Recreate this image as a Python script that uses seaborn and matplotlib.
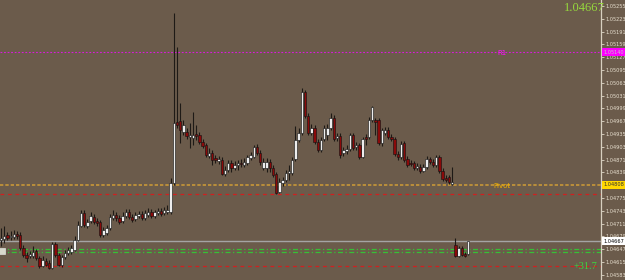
import matplotlib
matplotlib.use("Agg")
import matplotlib.pyplot as plt
import matplotlib.transforms as mtransforms
import numpy as np
import seaborn as sns

# ---- data (prices in points, 1e-5) ----
opens = [104670,104673,104683,104678,104678,104685,104683,104650,104633,104630,
         104630,104643,104625,104605,104618,104613,104600,104660,104633,104608,
         104628,104638,104640,104645,104670,104705,104738,104705,104718,104728,
         104718,104715,104683,104688,104700,104725,104733,104725,104718,104730,
         104740,104728,104723,104730,104735,104725,104733,104740,104730,104738,
         104743,104738,104740,104740,104813,104965,104968,104940,104940,104928,
         104925,104935,104933,104915,104908,104880,104888,104875,104868,104870,
         104835,104845,104863,104850,104858,104863,104858,104863,104875,104878,
         104903,104888,104850,104850,104865,104850,104835,104790,104813,104820,
         104838,104838,104873,104920,104938,105040,104980,104938,104950,104915,
         104895,104923,104933,104950,104975,104925,104930,104888,104893,104898,
         104933,104903,104908,104878,104928,104928,104970,104970,104970,104913,
         104938,104945,104928,104923,104885,104878,104913,104873,104863,104863,
         104850,104853,104843,104853,104873,104865,104858,104878,104843,104825,
         104828,104810,104658,104630,104650,104635,104635]
closes = [104675,104680,104675,104680,104685,104680,104650,104633,104625,104635,
          104640,104625,104605,104620,104608,104600,104660,104633,104608,104628,
          104638,104645,104650,104670,104708,104738,104708,104715,104730,104715,
          104713,104683,104695,104700,104728,104733,104725,104715,104730,104740,
          104728,104720,104733,104735,104725,104738,104740,104730,104740,104743,
          104735,104745,104745,104813,104963,104958,104945,104958,104930,104933,
          104933,104930,104915,104905,104883,104888,104870,104870,104873,104835,
          104845,104863,104850,104858,104863,104860,104865,104878,104883,104903,
          104888,104865,104865,104865,104850,104833,104788,104815,104820,104838,
          104843,104870,104920,104938,105040,104980,104938,104950,104915,104895,
          104920,104950,104950,104975,104923,104930,104883,104895,104898,104933,
          104900,104908,104878,104923,104923,104970,105003,104965,104913,104945,
          104945,104928,104923,104885,104878,104910,104870,104858,104860,104850,
          104855,104843,104853,104873,104865,104858,104878,104843,104823,104820,
          104815,104815,104630,104650,104633,104630,104667]
highs = [104700,104705,104690,104693,104695,104693,104690,104658,104640,104643,
         104655,104648,104630,104630,104625,104620,104665,104665,104638,104633,
         104645,104653,104658,104680,104718,104745,104745,104723,104740,104735,
         104725,104720,104703,104708,104735,104745,104740,104733,104740,104748,
         104748,104735,104740,104743,104743,104745,104750,104748,104745,104750,
         104750,104753,104758,104825,105238,105153,105013,104970,104950,104963,
         104990,104958,104940,104923,104913,104900,104895,104883,104880,104878,
         104855,104870,104870,104868,104870,104873,104875,104883,104890,104908,
         104910,104895,104875,104875,104873,104858,104840,104825,104828,104845,
         104858,104878,104955,104950,105050,105045,104988,104960,104958,104923,
         104928,104958,104960,104988,104983,104938,104938,104903,104908,104938,
         104938,104915,104913,104928,104935,104978,105005,104975,104975,104950,
         104953,104953,104935,104928,104893,104918,104918,104880,104870,104868,
         104863,104860,104860,104880,104878,104873,104883,104883,104850,104833,
         104833,104853,104675,104655,104655,104640,104668]
lows = [104655,104663,104670,104670,104673,104673,104645,104628,104615,104625,
        104625,104620,104600,104603,104605,104598,104598,104628,104605,104603,
        104623,104633,104635,104643,104668,104703,104703,104700,104713,104710,
        104705,104678,104678,104683,104695,104720,104718,104710,104713,104725,
        104723,104715,104718,104725,104720,104720,104728,104725,104725,104733,
        104730,104733,104735,104735,104808,104950,104913,104933,104923,104900,
        104908,104920,104910,104900,104878,104875,104858,104863,104860,104833,
        104830,104840,104840,104845,104845,104853,104853,104858,104870,104875,
        104883,104858,104845,104840,104840,104828,104785,104788,104805,104815,
        104820,104833,104868,104915,104933,104975,104933,104933,104910,104890,
        104890,104918,104920,104945,104918,104918,104875,104880,104885,104893,
        104895,104895,104873,104875,104908,104923,104965,104933,104908,104905,
        104933,104923,104918,104880,104870,104873,104865,104853,104855,104845,
        104845,104838,104840,104848,104860,104853,104853,104838,104818,104815,
        104810,104808,104628,104628,104630,104628,104633]

price_ticks = [105255,105223,105191,105159,105127,105095,105063,105031,104999,104967,
               104935,104903,104871,104839,104807,104775,104743,104711,104679,104647,
               104615,104583]

r1_level = 105140
pivot_level = 104808
red_upper = 104784
current_price = 104667
green_levels = [104647, 104639]
red_lower = 104605
left_marker_level = 104643
label_r1 = "R1"
label_pivot = "Pivot"
label_pips = "+31.7"

# ---- style ----
BG = "#6b5b4b"
sns.set_theme(style="dark", rc={"axes.facecolor": BG, "figure.facecolor": BG})
plt.rcParams["font.family"] = ["DejaVu Sans"]

P = 1e-5
o = np.array(opens) * P
c = np.array(closes) * P
h = np.array(highs) * P
l = np.array(lows) * P
idx = np.arange(len(o))

fig = plt.figure(figsize=(6.25, 2.8), dpi=100)
ax = fig.add_axes([0, 0, 601 / 625, 1])
ax.set_facecolor(BG)

# horizontal levels
ax.axhline(r1_level * P, color="#d81cd8", lw=0.8, ls=(0, (1.6, 1.6)), zorder=1)
ax.axhline(pivot_level * P, color="#c89838", lw=1.2, ls=(0, (2, 1.2)), zorder=1)
ax.axhline(red_upper * P, color="#d02020", lw=0.9, ls=(0, (3, 3)), zorder=1)
ax.axhline(current_price * P, color="#a4a4a4", lw=1.0, zorder=1)
for g in green_levels:
    ax.axhline(g * P, color="#36c036", lw=0.9, ls=(0, (4, 2, 1, 2)), zorder=1)
ax.axhline(red_lower * P, color="#d02020", lw=0.9, ls=(0, (3, 3)), zorder=1)

# candles
ax.vlines(idx, l, h, color="#1e1a16", lw=0.8, zorder=2)
bull = c >= o
body_bottom = np.minimum(o, c)
body_h = np.maximum(np.abs(c - o), 0.4 * P)
ax.bar(idx[bull], body_h[bull], bottom=body_bottom[bull], width=0.72,
       color="#ededed", edgecolor="#111111", linewidth=0.4, zorder=3)
ax.bar(idx[~bull], body_h[~bull], bottom=body_bottom[~bull], width=0.72,
       color="#8a0a0a", edgecolor="#111111", linewidth=0.4, zorder=3)

# axes limits
px_per_bar = 3.2
ax.set_xlim(-1 / px_per_bar, -1 / px_per_bar + 601 / px_per_bar)
ax.set_ylim(105270 * P - 280 * 2.5 * P, 105270 * P)
ax.set_xticks([])

# right price scale (labels hidden under the coloured price boxes are left blank)
covered = {pivot_level, r1_level, current_price}
def is_covered(t):
    return any(abs(t - v) < 8 for v in covered)
ax.yaxis.tick_right()
ax.set_yticks(np.array(price_ticks) * P)
ax.set_yticklabels(["" if is_covered(t) else f"{t * P:.5f}" for t in price_ticks])
ax.tick_params(axis="y", which="both", direction="out", length=2, width=0.6,
               color="#e0d8c8", labelcolor="#e8e0d0", labelsize=3.6, pad=1, right=True)
for s in ["top", "left", "bottom"]:
    ax.spines[s].set_visible(False)
ax.spines["right"].set_color("#d8d0c0")
ax.spines["right"].set_linewidth(0.9)
ax.grid(False)

trans = mtransforms.blended_transform_factory(ax.transAxes, ax.transData)
def axis_box(val, fc, tc):
    ax.text(1.004, val * P, f"{val * P:.5f}", transform=trans, fontsize=3.6,
            color=tc, ha="left", va="center", clip_on=False, zorder=6,
            bbox=dict(boxstyle="square,pad=0.25", fc=fc, ec="none"))

axis_box(r1_level, "#ff00ff", "#c8c8c8")
axis_box(pivot_level, "#ffd700", "#303030")
axis_box(current_price, "#ffffff", "#000000")

# small light marker at the left edge
ax.text(0.0, left_marker_level * P, "   ", transform=trans, fontsize=3.5,
        ha="left", va="center", zorder=5,
        bbox=dict(boxstyle="square,pad=0.15", fc="#d8d8cc", ec="#f0f0f0", lw=0.4))

# labels on chart
ax.text(155, r1_level * P - 1.0 * 2.5 * P, label_r1, color="#ff10ff", fontsize=5,
        ha="left", va="center", zorder=5)
ax.text(154, pivot_level * P - 1.4 * 2.5 * P, label_pivot, color="#f0b000", fontsize=5,
        ha="left", va="center", zorder=5)
ax.text(0.993, red_lower * P, label_pips, transform=trans, color="#3ed43e",
        fontsize=7.5, family=["Liberation Serif", "DejaVu Serif"],
        ha="right", va="center", zorder=5)

fig.text(605 / 625, 1 - 8 / 280, f"{current_price * P:.5f}", color="#96d83c",
         fontsize=9, family=["Liberation Serif", "DejaVu Serif"], ha="right", va="center")

fig.savefig("out.png", dpi=100, facecolor=BG)
